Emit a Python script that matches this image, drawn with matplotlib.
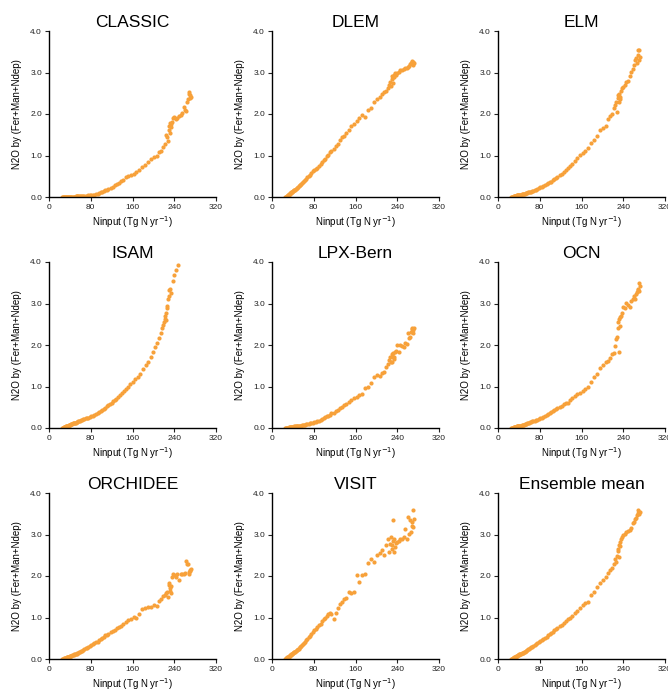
import numpy as np
import matplotlib
matplotlib.use("Agg")
import matplotlib.pyplot as plt

plt.rcParams['font.family'] = ['Liberation Sans', 'DejaVu Sans']

# N input (Tg N yr-1), shared by most models
ninput = [25, 26, 27, 28, 29, 30, 31, 32, 33, 34,
          35, 36, 37, 38, 39, 40, 41, 42, 43, 44,
          46, 47, 48, 50, 51, 53, 54, 56, 58, 60,
          62, 64, 66, 68, 70, 72, 75, 78, 81, 84,
          87, 90, 93, 96, 99, 102, 105, 108, 111, 114,
          118, 122, 126, 130, 134, 138, 142, 147, 152, 157,
          162, 167, 172, 178, 184, 190, 196, 201, 206, 211,
          215, 219, 222, 224, 226, 228, 229, 230, 231, 232,
          233, 234, 236, 238, 240, 243, 246, 249, 252, 255,
          258, 261, 263, 265, 267, 268, 269, 270, 271, 272]

classic = [0.00, 0.00, 0.00, 0.00, 0.00, 0.00, 0.00, 0.00, 0.00, 0.00,
           0.00, 0.01, 0.01, 0.01, 0.01, 0.01, 0.01, 0.01, 0.01, 0.01,
           0.01, 0.01, 0.01, 0.01, 0.02, 0.02, 0.02, 0.02, 0.02, 0.02, 0.02, 0.03, 0.03, 0.03, 0.03,
           0.03, 0.04, 0.04, 0.05, 0.05, 0.06, 0.07, 0.08, 0.10, 0.11, 0.12, 0.14, 0.16, 0.18, 0.20,
           0.22, 0.25, 0.28, 0.31, 0.34, 0.38, 0.41, 0.47, 0.50, 0.53, 0.55, 0.60, 0.66, 0.72, 0.76, 0.85, 0.92, 0.96, 1.00, 1.08,
           1.12, 1.20, 1.28, 1.50, 1.45, 1.35, 1.62, 1.72, 1.55, 1.78, 1.68, 1.75, 1.80, 1.90, 1.92,
           1.88, 1.90, 1.95, 1.98, 2.02, 2.18, 2.10, 2.08, 2.30, 2.35, 2.48, 2.52, 2.38, 2.45, 2.42]

dlem = [0.00, 0.00, 0.01, 0.02, 0.03, 0.04, 0.05, 0.06, 0.07, 0.08,
        0.09, 0.10, 0.11, 0.12, 0.13, 0.14, 0.15, 0.16, 0.17, 0.18,
        0.20, 0.21, 0.22, 0.24, 0.26, 0.28, 0.29, 0.31, 0.33, 0.35, 0.38, 0.40, 0.44, 0.47, 0.50,
        0.53, 0.57, 0.62, 0.65, 0.68, 0.71, 0.75, 0.79, 0.84, 0.88, 0.92, 0.98, 1.02, 1.08, 1.10,
        1.16, 1.22, 1.28, 1.38, 1.44, 1.48, 1.54, 1.62, 1.70, 1.75, 1.82, 1.90, 1.98, 1.92, 2.10, 2.15, 2.28, 2.36, 2.40, 2.48,
        2.52, 2.55, 2.62, 2.70, 2.78, 2.68, 2.85, 2.92, 2.75, 2.88, 2.95, 2.90, 2.98, 2.95, 3.00,
        3.02, 3.05, 3.06, 3.08, 3.10, 3.10, 3.14, 3.15, 3.20, 3.22, 3.28, 3.25, 3.18, 3.26, 3.22]

elm = [0.00, 0.00, 0.01, 0.01, 0.01, 0.02, 0.02, 0.02, 0.03, 0.03,
       0.03, 0.04, 0.04, 0.04, 0.05, 0.05, 0.05, 0.06, 0.06, 0.06,
       0.07, 0.07, 0.07, 0.08, 0.08, 0.09, 0.09, 0.10, 0.11, 0.12, 0.12, 0.13, 0.14, 0.15, 0.16,
       0.17, 0.19, 0.21, 0.23, 0.25, 0.27, 0.29, 0.31, 0.33, 0.35, 0.37, 0.40, 0.43, 0.46, 0.48,
       0.52, 0.56, 0.61, 0.65, 0.70, 0.75, 0.80, 0.86, 0.93, 1.01, 1.07, 1.10, 1.18, 1.30, 1.38, 1.48, 1.62, 1.66, 1.70, 1.88,
       1.95, 2.00, 2.15, 2.22, 2.30, 2.05, 2.38, 2.45, 2.28, 2.48, 2.35, 2.42, 2.55, 2.62, 2.66,
       2.70, 2.76, 2.80, 2.92, 3.02, 3.08, 3.18, 3.30, 3.35, 3.22, 3.55, 3.42, 3.30, 3.55, 3.38]

# ISAM has its own N input range
isam_x = [25, 26, 27, 28, 29, 30, 31, 32, 33, 34, 35, 36, 37, 38, 39, 40, 41, 42, 43, 44,
          46, 47, 48, 50, 51, 53, 54, 56, 58, 60, 62, 64, 66, 68, 70,
          72, 75, 78, 81, 84, 87, 90, 93, 96, 99, 102, 105, 108, 111, 114,
          117, 120, 123, 126, 129, 132, 136, 140, 144, 148, 152, 156, 160,
          165, 170, 175, 180, 185, 190, 195, 199, 203, 207, 211,
          214, 217, 219, 221, 222, 223, 224, 225, 226, 227, 228, 229, 230,
          232, 234, 237, 240, 243, 247]
isam = [0.00, 0.01, 0.01, 0.02, 0.02, 0.03, 0.03, 0.04, 0.04, 0.05, 0.05, 0.06, 0.06, 0.07, 0.07, 0.08, 0.08, 0.09, 0.09, 0.10,
        0.11, 0.11, 0.12, 0.13, 0.13, 0.14, 0.15, 0.16, 0.17, 0.18, 0.19, 0.20, 0.21, 0.22, 0.23,
        0.24, 0.25, 0.27, 0.28, 0.30, 0.32, 0.34, 0.36, 0.38, 0.40, 0.43, 0.46, 0.49, 0.52, 0.55,
        0.58, 0.61, 0.64, 0.68, 0.71, 0.75, 0.80, 0.85, 0.90, 0.95, 1.00, 1.06, 1.12,
        1.18, 1.22, 1.30, 1.42, 1.52, 1.60, 1.72, 1.82, 1.95, 2.05, 2.18,
        2.30, 2.40, 2.48, 2.55, 2.62, 2.70, 2.60, 2.78, 2.88, 2.95, 3.10, 3.18, 3.32,
        3.35, 3.25, 3.55, 3.68, 3.80, 3.92]

lpx = [0.00, 0.00, 0.00, 0.01, 0.01, 0.01, 0.01, 0.01, 0.02, 0.02,
       0.02, 0.02, 0.02, 0.03, 0.03, 0.03, 0.03, 0.03, 0.04, 0.04,
       0.04, 0.04, 0.05, 0.05, 0.05, 0.06, 0.06, 0.06, 0.07, 0.07, 0.08, 0.08, 0.09, 0.10, 0.10,
       0.11, 0.12, 0.13, 0.14, 0.15, 0.17, 0.18, 0.20, 0.22, 0.24, 0.26, 0.28, 0.30, 0.32, 0.35,
       0.37, 0.40, 0.44, 0.47, 0.51, 0.55, 0.58, 0.63, 0.68, 0.72, 0.74, 0.80, 0.82, 0.96, 0.98, 1.08, 1.24, 1.28, 1.26, 1.33,
       1.36, 1.48, 1.55, 1.65, 1.72, 1.60, 1.78, 1.58, 1.70, 1.80, 1.66, 1.72, 1.82, 1.85, 2.00,
       1.84, 2.01, 1.98, 1.96, 2.05, 2.03, 2.28, 2.18, 2.20, 2.32, 2.38, 2.42, 2.30, 2.36, 2.40]

ocn = [0.00, 0.00, 0.01, 0.01, 0.01, 0.02, 0.02, 0.02, 0.03, 0.03,
       0.03, 0.04, 0.04, 0.04, 0.05, 0.05, 0.05, 0.06, 0.06, 0.06,
       0.07, 0.07, 0.08, 0.08, 0.09, 0.10, 0.10, 0.11, 0.12, 0.13, 0.14, 0.15, 0.16, 0.17, 0.18,
       0.19, 0.20, 0.22, 0.24, 0.25, 0.27, 0.29, 0.31, 0.33, 0.35, 0.38, 0.40, 0.43, 0.46, 0.48,
       0.50, 0.54, 0.58, 0.60, 0.61, 0.68, 0.72, 0.76, 0.81, 0.84, 0.90, 0.95, 1.00, 1.12, 1.22, 1.30, 1.45, 1.52, 1.58, 1.62,
       1.68, 1.78, 1.80, 1.98, 2.15, 2.20, 2.42, 2.55, 1.82, 2.62, 2.45, 2.68, 2.70, 2.78, 2.92,
       2.90, 3.02, 2.96, 2.92, 3.05, 3.12, 3.18, 3.10, 3.24, 3.28, 3.32, 3.35, 3.50, 3.30, 3.42]

orchidee = [0.00, 0.00, 0.01, 0.01, 0.02, 0.02, 0.03, 0.03, 0.03, 0.04,
            0.04, 0.05, 0.05, 0.06, 0.06, 0.07, 0.07, 0.08, 0.08, 0.09,
            0.10, 0.10, 0.11, 0.12, 0.12, 0.13, 0.14, 0.15, 0.16, 0.17, 0.19, 0.20, 0.22, 0.24, 0.26,
            0.27, 0.29, 0.31, 0.33, 0.36, 0.38, 0.40, 0.42, 0.45, 0.48, 0.51, 0.54, 0.57, 0.59, 0.61,
            0.64, 0.67, 0.70, 0.74, 0.77, 0.80, 0.84, 0.90, 0.95, 0.97, 1.02, 1.00, 1.08, 1.20, 1.24, 1.26, 1.26, 1.30, 1.28, 1.40,
            1.45, 1.52, 1.55, 1.60, 1.62, 1.50, 1.78, 1.82, 1.65, 1.72, 1.60, 1.76, 1.98, 2.06, 2.02,
            1.98, 2.04, 1.90, 2.06, 2.05, 2.04, 2.08, 2.35, 2.30, 2.28, 2.10, 2.05, 2.15, 2.12, 2.18]

visit = [0.00, 0.01, 0.02, 0.03, 0.04, 0.05, 0.05, 0.06, 0.07, 0.08,
         0.09, 0.10, 0.11, 0.12, 0.13, 0.14, 0.15, 0.16, 0.17, 0.18,
         0.20, 0.21, 0.22, 0.24, 0.25, 0.28, 0.29, 0.32, 0.34, 0.36, 0.39, 0.41, 0.45, 0.48, 0.52,
         0.56, 0.60, 0.64, 0.70, 0.73, 0.78, 0.82, 0.85, 0.92, 0.97, 0.99, 1.04, 1.08, 1.10, 1.09,
         0.96, 1.12, 1.22, 1.33, 1.37, 1.45, 1.48, 1.62, 1.58, 1.62, 2.02, 1.86, 2.03, 2.06, 2.32, 2.42, 2.34, 2.50, 2.55, 2.62,
         2.50, 2.74, 2.90, 2.58, 2.78, 2.94, 2.65, 2.74, 3.34, 2.85, 2.58, 2.90, 2.70, 2.80, 2.82,
         2.85, 2.90, 2.88, 2.95, 3.14, 2.90, 3.42, 3.02, 3.34, 3.06, 3.20, 3.30, 3.58, 3.18, 3.38]

ensemble = [0.00, 0.01, 0.01, 0.02, 0.03, 0.03, 0.04, 0.05, 0.05, 0.06,
            0.07, 0.07, 0.08, 0.09, 0.09, 0.10, 0.11, 0.11, 0.12, 0.13,
            0.14, 0.15, 0.15, 0.17, 0.18, 0.19, 0.20, 0.22, 0.23, 0.25, 0.26, 0.28, 0.30, 0.32, 0.34,
            0.36, 0.38, 0.40, 0.43, 0.45, 0.48, 0.51, 0.54, 0.57, 0.60, 0.63, 0.66, 0.69, 0.72, 0.75,
            0.79, 0.83, 0.87, 0.92, 0.96, 1.00, 1.04, 1.10, 1.16, 1.22, 1.30, 1.36, 1.38, 1.55, 1.62, 1.73, 1.82, 1.90, 1.98, 2.08,
            2.15, 2.20, 2.30, 2.40, 2.34, 2.48, 2.66, 2.60, 2.45, 2.75, 2.82, 2.72, 2.90, 2.95, 2.98,
            3.02, 3.05, 3.08, 3.10, 3.16, 3.28, 3.30, 3.38, 3.40, 3.48, 3.52, 3.58, 3.55, 3.50, 3.54]

titles = ["CLASSIC", "DLEM", "ELM", "ISAM", "LPX-Bern", "OCN",
          "ORCHIDEE", "VISIT", "Ensemble mean"]
xs = [ninput, ninput, ninput, isam_x, ninput, ninput, ninput, ninput, ninput]
ys = [classic, dlem, elm, isam, lpx, ocn, orchidee, visit, ensemble]

color = '#F7A13A'

fig = plt.figure(figsize=(6.68, 6.91), dpi=100)
lefts = [49, 272, 498]
tops = [31, 262, 493]
W, H = 668.0, 691.0

for i in range(9):
    r, c = divmod(i, 3)
    ax = fig.add_axes([lefts[c] / W, 1 - (tops[r] + 166) / H, 167 / W, 166 / H])
    ax.scatter(xs[i], ys[i], s=9, color=color, linewidths=0)
    ax.set_xlim(0, 320)
    ax.set_ylim(0, 4)
    ax.set_xticks([0, 80, 160, 240, 320])
    ax.set_yticks([0, 1, 2, 3, 4])
    ax.set_yticklabels(["0.0", "1.0", "2.0", "3.0", "4.0"])
    ax.spines['top'].set_visible(False)
    ax.spines['right'].set_visible(False)
    ax.spines['left'].set_linewidth(1.0)
    ax.spines['bottom'].set_linewidth(1.0)
    ax.tick_params(direction='out', length=3, width=0.8, labelsize=6, colors='#222222', pad=2)
    ax.set_title(titles[i], fontsize=12.5, pad=3)
    ax.set_xlabel("Ninput (Tg N yr$^{-1}$)", fontsize=7, labelpad=2)
    ax.set_ylabel("N2O by (Fer+Man+Ndep)", fontsize=7, labelpad=6)

fig.savefig("out.png", dpi=100)
